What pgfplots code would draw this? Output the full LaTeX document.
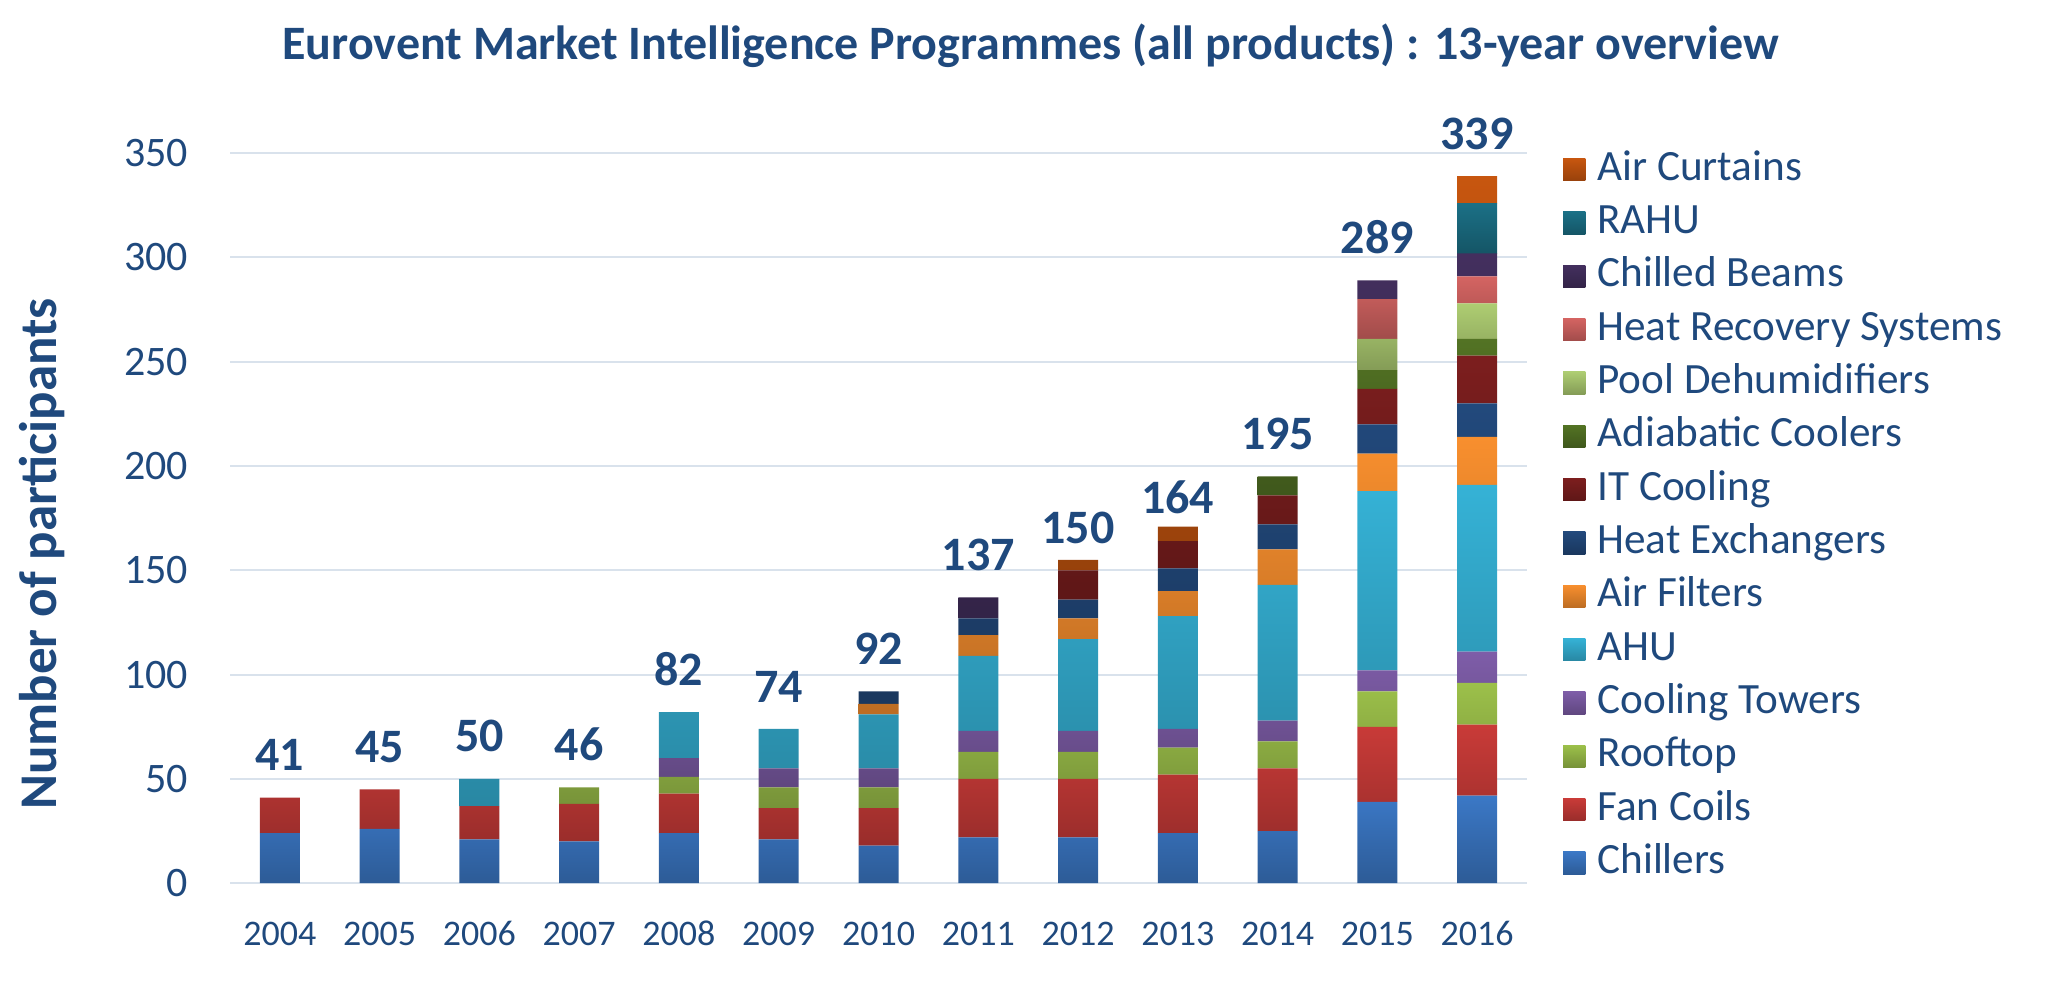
\documentclass[border=0pt]{standalone}
\usepackage{pgfplots}
\pgfplotsset{compat=1.18}
\usepackage{pgfplotstable}
\usepackage{fontspec}
\setmainfont{Carlito}
\definecolor{txt}{HTML}{1F497D}
\definecolor{gridc}{HTML}{D9E2EC}
\definecolor{cCh}{HTML}{3B78C6}
\definecolor{cFC}{HTML}{C93B38}
\definecolor{cRT}{HTML}{9CC04A}
\definecolor{cCT}{HTML}{7E5DA8}
\definecolor{cAHU}{HTML}{35B2D6}
\definecolor{cAF}{HTML}{F88F2E}
\definecolor{cHE}{HTML}{22497C}
\definecolor{cIT}{HTML}{7C1E1E}
\definecolor{cAD}{HTML}{537324}
\definecolor{cPD}{HTML}{AECD72}
\definecolor{cHR}{HTML}{D46462}
\definecolor{cCB}{HTML}{432F5E}
\definecolor{cRA}{HTML}{1B7086}
\definecolor{cAC}{HTML}{C7560F}

\pgfplotstableread{
x Ch FC RT CT AHU AF HE IT AD PD HR CB RA AC
0  24 17  0  0  0  0  0  0  0  0  0  0  0  0
1  26 19  0  0  0  0  0  0  0  0  0  0  0  0
2  21 16  0  0 13  0  0  0  0  0  0  0  0  0
3  20 18  8  0  0  0  0  0  0  0  0  0  0  0
4  24 19  8  9 22  0  0  0  0  0  0  0  0  0
5  21 15 10  9 19  0  0  0  0  0  0  0  0  0
6  18 18 10  9 26  5  6  0  0  0  0  0  0  0
7  22 28 13 10 36 10  8  0  0  0  0 10  0  0
8  22 28 13 10 44 10  9 14  0  0  0  0  0  5
9  24 28 13  9 54 12 11 13  0  0  0  0  0  7
10 25 30 13 10 65 17 12 14  9  0  0  0  0  0
11 39 36 17 10 86 18 14 17  9 15 19  9  0  0
12 42 34 20 15 80 23 16 23  8 17 13 11 24 13
}\datatable

\pgfplotstableread{
x y
0 41
1 45
2 50
3 46
4 82
5 74
6 92
7 137
8 150
9 164
10 195
11 289
12 339
}\labeltable

\pgfplotsset{
  geom/.style={
    at={(57.5pt,28.7pt)}, anchor=south west,
    scale only axis, width=324.25pt, height=182.5pt,
    xmin=-0.5, xmax=12.5, ymin=0, ymax=350,
  },
  mybar/.style={draw=none, top color=#1, bottom color=#1!76!black,
    legend image code/.code={\path[##1] (0pt,-2.8pt) rectangle (5.6pt,2.8pt);}},
}

\begin{document}
\begin{tikzpicture}
\useasboundingbox (0,0) rectangle (514.75pt,249.5pt);
\node[font=\bfseries\fontsize{12}{14}\selectfont, text=txt] at (257.7pt,238pt)
  {Eurovent Market Intelligence Programmes (all products) : 13-year overview};
\node[rotate=90, font=\bfseries\fontsize{13.25}{15}\selectfont, text=txt] at (10.5pt,111pt)
  {Number of participants};
\begin{axis}[
  geom,
  ybar stacked, bar width=10pt,
  xtick={0,...,12},
  xticklabels={2004,2005,2006,2007,2008,2009,2010,2011,2012,2013,2014,2015,2016},
  ytick={0,50,...,350},
  axis line style={draw=none},
  tick style={draw=none},
  ymajorgrids, major grid style={draw=gridc, line width=0.5pt},
  /pgf/number format/assume math mode=true,
  xticklabel style={font=\fontsize{9}{11}\selectfont, text=txt, text height=6pt, text depth=0pt, yshift=-6pt},
  yticklabel style={font=\fontsize{10.5}{12}\selectfont, text=txt, xshift=-7pt},
  reverse legend,
  legend cell align=left,
  legend style={at={(1.0278,1.004)}, anchor=north west, draw=none, fill=none,
    inner sep=0pt, outer sep=0pt, column sep=3pt, row sep=3.63pt,
    font=\fontsize{10.8}{12}\selectfont, text=txt,
    nodes={inner sep=0pt, text height=7.5pt, text depth=2.2pt}},
]
\addplot[mybar=cCh] table[x=x,y=Ch]{\datatable};
\addlegendentry{Chillers}
\addplot[mybar=cFC] table[x=x,y=FC]{\datatable};
\addlegendentry{Fan Coils}
\addplot[mybar=cRT] table[x=x,y=RT]{\datatable};
\addlegendentry{Rooftop}
\addplot[mybar=cCT] table[x=x,y=CT]{\datatable};
\addlegendentry{Cooling Towers}
\addplot[mybar=cAHU] table[x=x,y=AHU]{\datatable};
\addlegendentry{AHU}
\addplot[mybar=cAF] table[x=x,y=AF]{\datatable};
\addlegendentry{Air Filters}
\addplot[mybar=cHE] table[x=x,y=HE]{\datatable};
\addlegendentry{Heat Exchangers}
\addplot[mybar=cIT] table[x=x,y=IT]{\datatable};
\addlegendentry{IT Cooling}
\addplot[mybar=cAD] table[x=x,y=AD]{\datatable};
\addlegendentry{Adiabatic Coolers}
\addplot[mybar=cPD] table[x=x,y=PD]{\datatable};
\addlegendentry{Pool Dehumidifiers}
\addplot[mybar=cHR] table[x=x,y=HR]{\datatable};
\addlegendentry{Heat Recovery Systems}
\addplot[mybar=cCB] table[x=x,y=CB]{\datatable};
\addlegendentry{Chilled Beams}
\addplot[mybar=cRA] table[x=x,y=RA]{\datatable};
\addlegendentry{RAHU}
\addplot[mybar=cAC] table[x=x,y=AC]{\datatable};
\addlegendentry{Air Curtains}
\end{axis}
\begin{axis}[geom, hide axis, clip=false]
\addplot[draw=none, mark=none, nodes near coords, point meta=explicit symbolic,
  nodes near coords style={font=\bfseries\fontsize{12}{14}\selectfont, text=txt,
    anchor=south, inner sep=0pt, yshift=6.5pt}]
  table[x=x, y=y, meta=y]{\labeltable};
\end{axis}
\end{tikzpicture}
\end{document}
